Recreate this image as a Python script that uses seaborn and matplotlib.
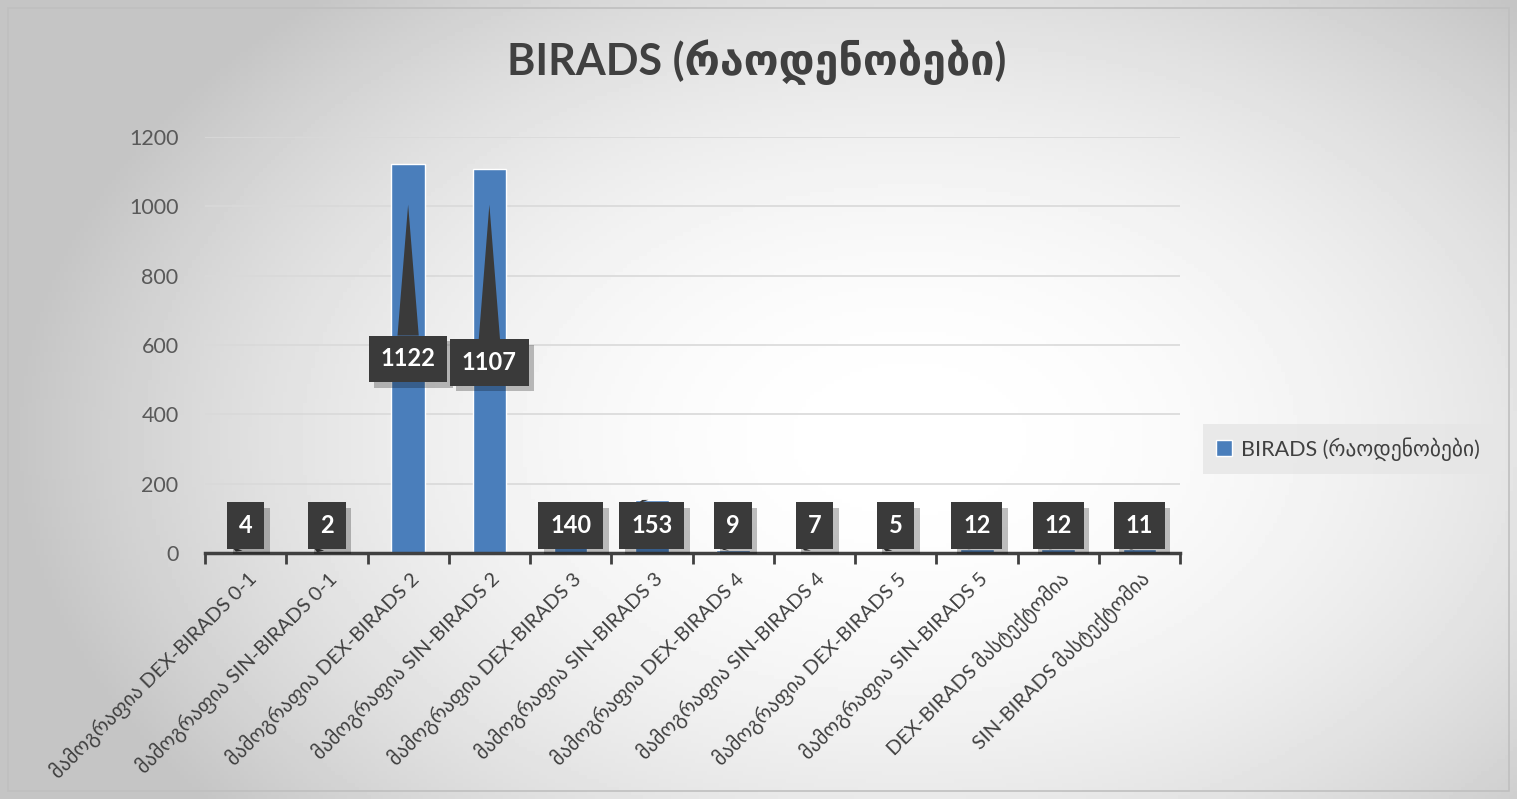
import numpy as np
import pandas as pd
import matplotlib
matplotlib.use("Agg")
import matplotlib.pyplot as plt
import matplotlib.patheffects as pe
from matplotlib.patches import Rectangle
import seaborn as sns

categories = [
    "მამოგრაფია DEX-BIRADS 0-1",
    "მამოგრაფია SIN-BIRADS 0-1",
    "მამოგრაფია DEX-BIRADS 2",
    "მამოგრაფია SIN-BIRADS 2",
    "მამოგრაფია DEX-BIRADS 3",
    "მამოგრაფია SIN-BIRADS 3",
    "მამოგრაფია DEX-BIRADS 4",
    "მამოგრაფია SIN-BIRADS 4",
    "მამოგრაფია DEX-BIRADS 5",
    "მამოგრაფია SIN-BIRADS 5",
    "DEX-BIRADS მასტექტომია",
    "SIN-BIRADS მასტექტომია",
]
values = [4, 2, 1122, 1107, 140, 153, 9, 7, 5, 12, 12, 11]
series_name = "BIRADS (რაოდენობები)"
title = "BIRADS (რაოდენობები)"
yticks = [0, 200, 400, 600, 800, 1000, 1200]

sns.set_theme(style="white")
plt.rcParams["font.family"] = ["Lato", "DejaVu Sans"]

W, H = 1517, 799
fig = plt.figure(figsize=(W / 100, H / 100), dpi=100)

# background gradient
bg = fig.add_axes([0, 0, 1, 1], zorder=-10)
yy, xx = np.mgrid[0:1:200j, 0:1:380j]
d = ((xx - 0.6) / 0.72) ** 2 + ((yy - 0.55) / 0.9) ** 2
img = np.clip(1.0 - 0.34 * d, 0.77, 1.0)
bg.imshow(img, cmap="gray", vmin=0, vmax=1, aspect="auto", extent=[0, 1, 0, 1], origin="upper")
bg.set_axis_off()
bg.add_patch(Rectangle((8 / W, 8 / H), 1 - 16 / W, 1 - 16 / H, transform=bg.transAxes,
                       fill=False, ec="#bfbfbf", lw=1.2))

ax = fig.add_axes([205 / W, 246 / H, 975 / W, 416 / H])
ax.patch.set_alpha(0)
df = pd.DataFrame({"cat": categories, "val": values})
sns.barplot(data=df, x="cat", y="val", color="#4a7ebb", saturation=1, width=0.41, ax=ax,
            label=series_name, zorder=3)

ax.set_ylim(0, 1200)
ax.set_xlim(-0.5, len(categories) - 0.5)
ax.set_yticks(yticks)
ax.set_yticklabels([str(v) for v in yticks], fontsize=15.5, color="#595959")
ax.yaxis.grid(True, color="#d9d9d9", lw=1.2, zorder=0)
ax.set_axisbelow(True)
for s in ["top", "right", "left"]:
    ax.spines[s].set_visible(False)
ax.spines["bottom"].set_color("#404040")
ax.spines["bottom"].set_linewidth(2.5)
ax.spines["bottom"].set_zorder(5)
ax.tick_params(axis="y", length=0, pad=19)

ax.set_xticks(np.arange(-0.5, len(categories) + 0.5, 1.0))
ax.set_xticklabels([])
ax.tick_params(axis="x", which="major", direction="out", length=8, width=2, color="#404040", bottom=True)
ax.set_xticks(np.arange(len(categories)), minor=True)
ax.set_xticklabels(categories, minor=True, rotation=45, ha="right", rotation_mode="anchor",
                   fontsize=14.5, color="#404040")
ax.tick_params(axis="x", which="minor", length=0, pad=11)
ax.set_xlabel("")
ax.set_ylabel("")

# data label callouts
shadow = [pe.withSimplePatchShadow(offset=(4, -4), shadow_rgbFace="#000000", alpha=0.25)]
for i, v in enumerate(values):
    if v > 600:
        ty = 560 if i == 2 else 550
        tip = 1005
        ann = ax.annotate(str(v), xy=(i, tip), xytext=(i, ty), ha="center", va="center",
                          fontsize=17, fontweight="bold", color="white", zorder=8,
                          bbox=dict(boxstyle="square,pad=0.5", fc="#3a3a3a", ec="none"),
                          arrowprops=dict(arrowstyle="wedge,tail_width=0.9,shrink_factor=0.5",
                                          fc="#3a3a3a", ec="none", shrinkA=0, shrinkB=0))
    else:
        ann = ax.annotate(str(v), xy=(i - 0.12, max(v, 0)), xytext=(i, 80), ha="center", va="center",
                          fontsize=17, fontweight="bold", color="white", zorder=8,
                          bbox=dict(boxstyle="square,pad=0.5", fc="#3a3a3a", ec="none"),
                          arrowprops=dict(arrowstyle="wedge,tail_width=0.5,shrink_factor=0.5",
                                          fc="#3a3a3a", ec="none", shrinkA=0, shrinkB=0))
    ann.get_bbox_patch().set_path_effects(shadow)

fig.text(757 / W, 1 - 62 / H, title, ha="center", va="center", fontsize=31,
         fontweight="bold", color="#404040")

leg = ax.legend(loc="center", bbox_to_anchor=(1348 / W, 1 - 449 / H), bbox_transform=fig.transFigure,
                frameon=True, fontsize=15.5, handlelength=0.75, handleheight=0.75, handletextpad=0.4,
                borderpad=0.6, fancybox=False)
leg.get_frame().set_facecolor("#e6e6e6")
leg.get_frame().set_edgecolor("none")
for t in leg.get_texts():
    t.set_color("#404040")

fig.savefig("out.png", dpi=100)
